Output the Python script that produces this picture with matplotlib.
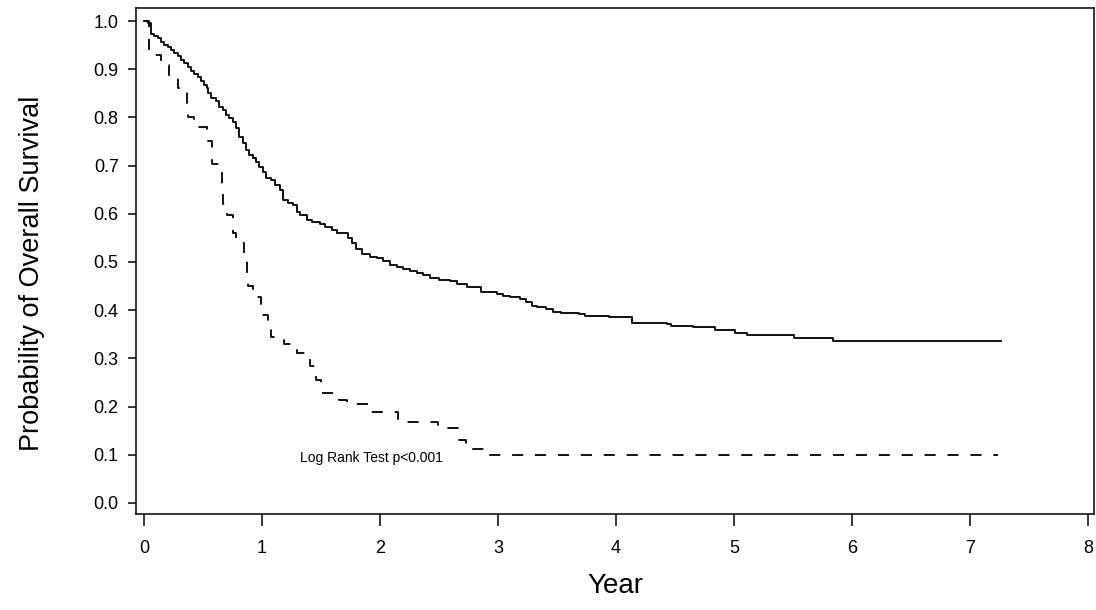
import matplotlib
matplotlib.use("Agg")
import matplotlib.pyplot as plt

plt.rcParams['font.family'] = ['Liberation Sans', 'DejaVu Sans']
plt.rcParams['lines.scale_dashes'] = False

# solid curve (step points: years, survival after the step)
solid_t = [0, 0.03, 0.06, 0.087, 0.116, 0.144, 0.172, 0.20, 0.229, 0.257,
           0.285, 0.314, 0.342, 0.37, 0.398, 0.427, 0.455, 0.483, 0.511,
           0.531, 0.54, 0.568, 0.61, 0.638, 0.667, 0.695, 0.723, 0.751,
           0.78, 0.808, 0.836, 0.864, 0.893, 0.921, 0.949, 0.977, 1.006,
           1.034, 1.076, 1.11, 1.153, 1.18, 1.223, 1.265, 1.294, 1.322,
           1.379, 1.421, 1.49, 1.534, 1.59, 1.633, 1.731, 1.76, 1.80,
           1.845, 1.915, 1.972, 2.028, 2.085, 2.14, 2.197, 2.254, 2.31,
           2.367, 2.424, 2.50, 2.59, 2.65, 2.74, 2.86, 2.99, 3.04, 3.10,
           3.19, 3.24, 3.29, 3.33, 3.41, 3.47, 3.53, 3.69, 3.74, 3.94,
           4.14, 4.43, 4.47, 4.65, 4.84, 5.01, 5.11, 5.51, 5.84, 7.26]
solid_s = [1.0, 0.995, 0.974, 0.969, 0.964, 0.957, 0.950, 0.947, 0.940,
           0.934, 0.927, 0.920, 0.912, 0.904, 0.897, 0.891, 0.884, 0.876,
           0.867, 0.860, 0.850, 0.840, 0.833, 0.822, 0.815, 0.805, 0.798,
           0.791, 0.777, 0.760, 0.746, 0.732, 0.722, 0.715, 0.708, 0.698,
           0.687, 0.674, 0.670, 0.660, 0.649, 0.629, 0.622, 0.618, 0.604,
           0.598, 0.587, 0.582, 0.579, 0.572, 0.566, 0.560, 0.549, 0.539,
           0.526, 0.517, 0.511, 0.508, 0.501, 0.494, 0.489, 0.485, 0.482,
           0.477, 0.472, 0.466, 0.462, 0.460, 0.454, 0.448, 0.437, 0.434,
           0.429, 0.427, 0.423, 0.417, 0.409, 0.407, 0.402, 0.396, 0.394,
           0.392, 0.388, 0.386, 0.373, 0.371, 0.367, 0.365, 0.359, 0.353,
           0.349, 0.342, 0.335, 0.335]

# dashed curve
dash_t = [0, 0.04, 0.14, 0.21, 0.29, 0.36, 0.37, 0.42, 0.53, 0.58, 0.66, 0.67,
          0.70, 0.75, 0.78, 0.85, 0.87, 0.88, 0.92, 0.99, 1.05, 1.08, 1.19,
          1.30, 1.41, 1.46, 1.50, 1.65, 1.72, 1.91, 2.15, 2.49, 2.67, 2.73,
          2.88, 7.24]
dash_s = [1.0, 0.929, 0.909, 0.884, 0.861, 0.83, 0.80, 0.78, 0.75, 0.703,
          0.66, 0.62, 0.598, 0.56, 0.54, 0.51, 0.47, 0.45, 0.427, 0.39,
          0.365, 0.344, 0.33, 0.311, 0.285, 0.255, 0.228, 0.213, 0.205,
          0.189, 0.168, 0.156, 0.13, 0.112, 0.10, 0.10]

x_ticks = [0, 1, 2, 3, 4, 5, 6, 7, 8]
y_ticks = [0.0, 0.1, 0.2, 0.3, 0.4, 0.5, 0.6, 0.7, 0.8, 0.9, 1.0]

fig = plt.figure(figsize=(10.96, 6.1), dpi=100)
ax = fig.add_axes([0.1241, 0.1574, 0.8739, 0.8295])

ax.plot(solid_t, solid_s, drawstyle='steps-post', color='black', lw=1.3)
ax.plot(dash_t, dash_s, drawstyle='steps-post', color='black', lw=1.3,
        linestyle=(0, (8, 8.5)))

ax.text(1.32, 0.093, "Log Rank Test p<0.001", fontsize=10, va='center', ha='left')

ax.set_xlim(-0.068, 8.05)
ax.set_ylim(-0.023, 1.027)
ax.set_xticks(x_ticks)
ax.set_xticklabels([str(v) for v in x_ticks])
ax.set_yticks(y_ticks)
ax.set_yticklabels([f"{v:.1f}" for v in y_ticks])
ax.tick_params(axis='x', direction='out', length=8.5, width=1.1, labelsize=13, pad=10)
ax.tick_params(axis='y', direction='out', length=6, width=1.1, labelsize=13, pad=6.5)
for sp in ax.spines.values():
    sp.set_linewidth(1.1)

ax.set_xlabel("Year", fontsize=20, labelpad=12)
ax.set_ylabel("Probability of Overall Survival", fontsize=19.5)
ax.yaxis.set_label_coords(-0.095, 0.476)

fig.savefig("out.png", dpi=100)
